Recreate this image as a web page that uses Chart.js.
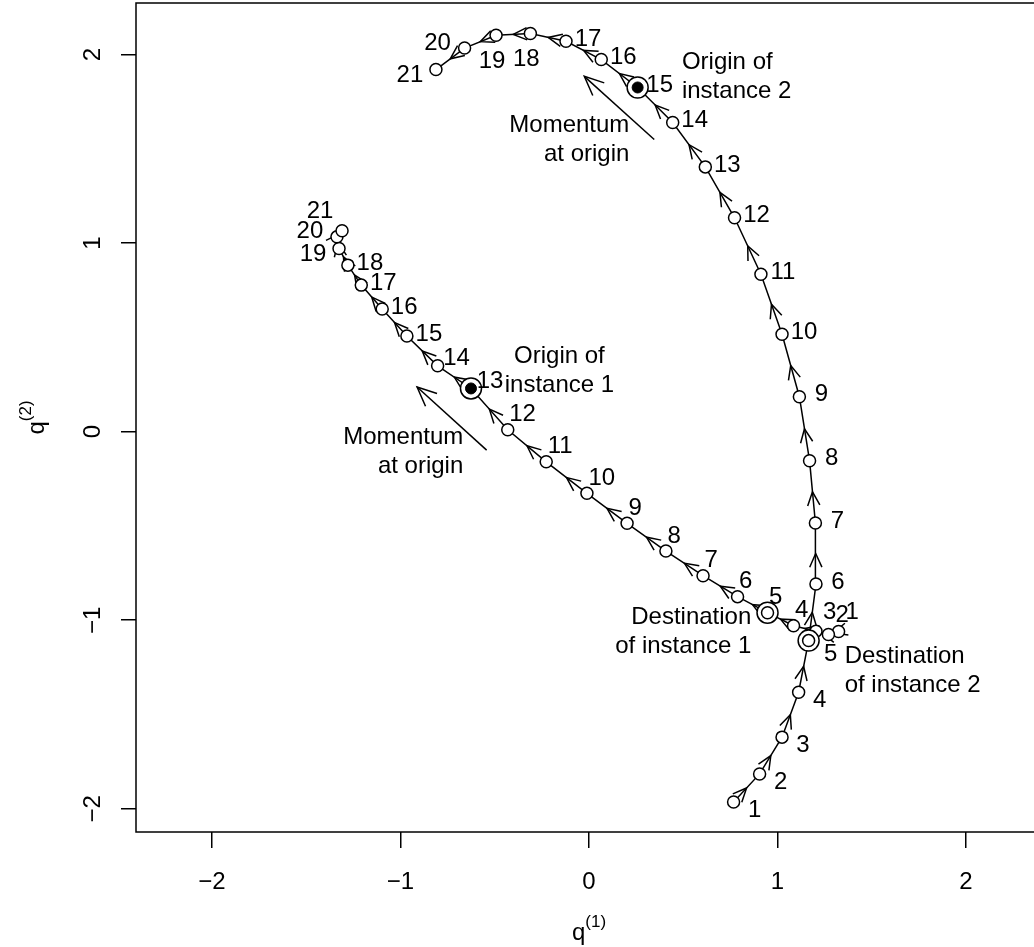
<!DOCTYPE html>
<html>
<head>
<meta charset="utf-8">
<script src="https://cdn.jsdelivr.net/npm/chart.js@4/dist/chart.umd.min.js"></script>
<style>
  html, body { margin: 0; padding: 0; background: #fff; overflow: hidden; }
  #chart { display: block; width: 1042px; height: 947px; }
</style>
</head>
<body>
<canvas id="chart" width="1042" height="947"></canvas>
<script>
/* Two leapfrog trajectories in (q1, q2) with step numbers */
const steps = [1, 2, 3, 4, 5, 6, 7, 8, 9, 10, 11, 12, 13, 14, 15, 16, 17, 18, 19, 20, 21];

const inst1Q1 = [1.324, 1.270, 1.204, 1.085, 0.947, 0.788, 0.605, 0.408, 0.202, -0.011, -0.227,
                 -0.431, -0.626, -0.803, -0.966, -1.097, -1.208, -1.279, -1.326, -1.337, -1.310];
const inst1Q2 = [-1.060, -1.076, -1.058, -1.029, -0.960, -0.875, -0.764, -0.633, -0.486, -0.327, -0.160,
                 0.010, 0.229, 0.349, 0.507, 0.650, 0.777, 0.883, 0.971, 1.033, 1.065];

const inst2Q1 = [0.767, 0.905, 1.024, 1.112, 1.165, 1.204, 1.201, 1.170, 1.116, 1.024, 0.912,
                 0.772, 0.617, 0.444, 0.258, 0.065, -0.122, -0.311, -0.493, -0.660, -0.812];
const inst2Q2 = [-1.964, -1.815, -1.620, -1.382, -1.108, -0.808, -0.484, -0.154, 0.185, 0.516, 0.835,
                 1.134, 1.404, 1.639, 1.825, 1.973, 2.070, 2.111, 2.102, 2.034, 1.920];

// origin / destination step of each instance
const originStep1 = 13, destStep1 = 5;
const originStep2 = 15, destStep2 = 5;

// momentum arrows (tail, tip)
const mom1Q1 = [-0.543, -0.912];
const mom1Q2 = [-0.098, 0.237];
const mom2Q1 = [0.346, -0.025];
const mom2Q2 = [1.549, 1.884];

const xTicks = [-2, -1, 0, 1, 2];
const yTicks = [-2, -1, 0, 1, 2];

// where each step number sits relative to its point
const labelPos1 = ['nee', 'nee', 'nee', 'ne', 'ne', 'ne', 'ne', 'ne', 'ne', 'ne', 'ne', 'ne',
                   'ene', 'ene', 'e', 'e', 'e', 'e', 'sw', 'w', 'nw'];
const labelPos2 = ['se', 'se', 'se', 'se', 'sse', 'e', 'e', 'e', 'e', 'e', 'e', 'e', 'e', 'e', 'e', 'e', 'e',
                   's', 's', 'w', 'sw'];

const notes = [
  { q1: -0.157, q2: 0.400, lines: ['Origin of', 'instance 1'], align: 'center' },
  { q1: -0.667, q2: -0.029, lines: ['Momentum', 'at origin'], align: 'right' },
  { q1: 0.493, q2: 1.960, lines: ['Origin of', 'instance 2'], align: 'left' },
  { q1: 0.214, q2: 1.625, lines: ['Momentum', 'at origin'], align: 'right' },
  { q1: 0.861, q2: -0.983, lines: ['Destination', 'of instance 1'], align: 'right' },
  { q1: 1.356, q2: -1.193, lines: ['Destination', 'of instance 2'], align: 'left' }
];

const FONT = '"Liberation Sans", Arial, Helvetica, sans-serif';
Chart.defaults.font.family = FONT;
Chart.defaults.color = '#000';

const fmt = v => (v < 0 ? '\u2212' + Math.abs(v) : String(v));
const pts = (xs, ys) => xs.map((x, i) => ({ x, y: ys[i] }));
const at = (xs, ys, step) => [{ x: xs[step - 1], y: ys[step - 1] }];

const labelOffsets = {
  ne:  { dx: 1.5, dy: -15, align: 'left' },
  nee: { dx: 7, dy: -19, align: 'left' },
  ene: { dx: 19, dy: -7, align: 'center' },
  e:   { dx: 22, dy: -2, align: 'center' },
  se:  { dx: 21, dy: 8, align: 'center' },
  sse: { dx: 22, dy: 14, align: 'center' },
  s:   { dx: -4, dy: 26, align: 'center' },
  w:   { dx: -27, dy: -5, align: 'center' },
  sw:  { dx: -26, dy: 6, align: 'center' },
  nw:  { dx: -22, dy: -19, align: 'center' }
};

function arrowHead(ctx, x0, y0, x1, y1, len, ang) {
  const a = Math.atan2(y1 - y0, x1 - x0);
  ctx.beginPath();
  ctx.moveTo(x1 - len * Math.cos(a - ang), y1 - len * Math.sin(a - ang));
  ctx.lineTo(x1, y1);
  ctx.lineTo(x1 - len * Math.cos(a + ang), y1 - len * Math.sin(a + ang));
  ctx.stroke();
}

function supText(ctx, base, sup, cx, baseline) {
  ctx.font = '24px ' + FONT;
  const wb = ctx.measureText(base).width;
  ctx.font = '17px ' + FONT;
  const ws = ctx.measureText(sup).width;
  const left = cx - (wb + ws) / 2;
  ctx.textAlign = 'left';
  ctx.textBaseline = 'alphabetic';
  ctx.font = '24px ' + FONT;
  ctx.fillText(base, left, baseline);
  ctx.font = '17px ' + FONT;
  ctx.fillText(sup, left + wb, baseline - 13);
}

const decorations = {
  id: 'decorations',
  beforeDatasetsDraw(chart) {
    const ctx = chart.ctx;
    ctx.save();
    ctx.strokeStyle = '#000';
    ctx.lineWidth = 1.5;
    chart.data.datasets.forEach((ds, i) => {
      const els = chart.getDatasetMeta(i).data;
      if (ds.role === 'path') {
        for (let k = 0; k + 1 < els.length; k++) {
          const a = els[k], b = els[k + 1];
          arrowHead(ctx, a.x, a.y, (a.x + b.x) / 2, (a.y + b.y) / 2, 15, 0.42);
        }
      } else if (ds.role === 'momentum') {
        const a = els[0], b = els[1];
        arrowHead(ctx, a.x, a.y, b.x, b.y, 21, 0.42);
      }
    });
    ctx.restore();
  },
  afterDatasetsDraw(chart) {
    const ctx = chart.ctx;
    const { x, y } = chart.scales;
    ctx.save();
    ctx.fillStyle = '#000';
    ctx.font = '24px ' + FONT;
    ctx.textBaseline = 'middle';
    // step numbers
    [[inst1Q1, inst1Q2, labelPos1], [inst2Q1, inst2Q2, labelPos2]].forEach(([xs, ys, pos]) => {
      steps.forEach((s, i) => {
        const o = labelOffsets[pos[i]];
        ctx.textAlign = o.align;
        ctx.fillText(String(s), x.getPixelForValue(xs[i]) + o.dx, y.getPixelForValue(ys[i]) + o.dy);
      });
    });
    // annotations
    notes.forEach(n => {
      ctx.textAlign = n.align;
      const px = x.getPixelForValue(n.q1), py = y.getPixelForValue(n.q2);
      n.lines.forEach((t, k) => ctx.fillText(t, px, py + k * 29));
    });
    ctx.restore();
  },
  afterDraw(chart) {
    const ctx = chart.ctx;
    const { y } = chart.scales;
    const ca = chart.chartArea;
    ctx.save();
    ctx.strokeStyle = '#000';
    ctx.lineWidth = 1.5;
    ctx.strokeRect(ca.left, ca.top, ca.right - ca.left, ca.bottom - ca.top);
    ctx.fillStyle = '#000';
    ctx.font = '24px ' + FONT;
    yTicks.forEach(v => {
      ctx.save();
      ctx.translate(100, y.getPixelForValue(v));
      ctx.rotate(-Math.PI / 2);
      ctx.textAlign = 'center';
      ctx.textBaseline = 'alphabetic';
      ctx.fillText(fmt(v), 0, 0);
      ctx.restore();
    });
    // axis titles
    supText(ctx, 'q', '(1)', (ca.left + ca.right) / 2, 940);
    ctx.save();
    ctx.translate(44, (ca.top + ca.bottom) / 2);
    ctx.rotate(-Math.PI / 2);
    supText(ctx, 'q', '(2)', 0, 0);
    ctx.restore();
    ctx.restore();
  }
};

const pointStyle = {
  pointRadius: 6,
  pointHoverRadius: 6,
  pointBackgroundColor: '#fff',
  pointBorderColor: '#000',
  pointBorderWidth: 1.5
};

new Chart(document.getElementById('chart'), {
  type: 'scatter',
  data: {
    datasets: [
      { data: at(inst1Q1, inst1Q2, originStep1).concat(at(inst2Q1, inst2Q2, originStep2)),
        pointRadius: 5.5, pointBackgroundColor: '#000', pointBorderColor: '#000', pointBorderWidth: 1, order: 0 },
      { data: at(inst1Q1, inst1Q2, destStep1).concat(at(inst2Q1, inst2Q2, destStep2)), ...pointStyle, order: 1 },
      { data: at(inst1Q1, inst1Q2, originStep1).concat(at(inst2Q1, inst2Q2, originStep2),
              at(inst1Q1, inst1Q2, destStep1), at(inst2Q1, inst2Q2, destStep2)),
        pointRadius: 10.5, pointBackgroundColor: '#fff', pointBorderColor: '#000', pointBorderWidth: 1.5, order: 2 },
      { role: 'path', data: pts(inst1Q1, inst1Q2), showLine: true, borderColor: '#000', borderWidth: 1.5, ...pointStyle, order: 3 },
      { role: 'path', data: pts(inst2Q1, inst2Q2), showLine: true, borderColor: '#000', borderWidth: 1.5, ...pointStyle, order: 4 },
      { role: 'momentum', data: pts(mom1Q1, mom1Q2), showLine: true, borderColor: '#000', borderWidth: 1.5, pointRadius: 0, order: 5 },
      { role: 'momentum', data: pts(mom2Q1, mom2Q2), showLine: true, borderColor: '#000', borderWidth: 1.5, pointRadius: 0, order: 5 }
    ]
  },
  options: {
    responsive: false,
    animation: false,
    events: [],
    layout: { autoPadding: false, padding: { top: 3, left: 0, right: 0, bottom: 0 } },
    plugins: { legend: { display: false }, tooltip: { enabled: false } },
    scales: {
      x: {
        type: 'linear', min: -2.403, max: 2.403,
        afterBuildTicks: s => { s.ticks = xTicks.map(v => ({ value: v })); },
        afterFit: s => { s.height = 115; },
        grid: { drawOnChartArea: false, drawTicks: true, tickLength: 16, color: '#000', lineWidth: 1.5 },
        border: { display: false },
        ticks: { font: { size: 24 }, padding: 20, maxRotation: 0, callback: v => fmt(v) }
      },
      y: {
        type: 'linear', min: -2.123, max: 2.273,
        afterBuildTicks: s => { s.ticks = yTicks.map(v => ({ value: v })); },
        afterFit: s => { s.width = 136; },
        grid: { drawOnChartArea: false, drawTicks: true, tickLength: 15, color: '#000', lineWidth: 1.5 },
        border: { display: false },
        ticks: { display: false }
      }
    }
  },
  plugins: [decorations]
});
</script>
</body>
</html>
